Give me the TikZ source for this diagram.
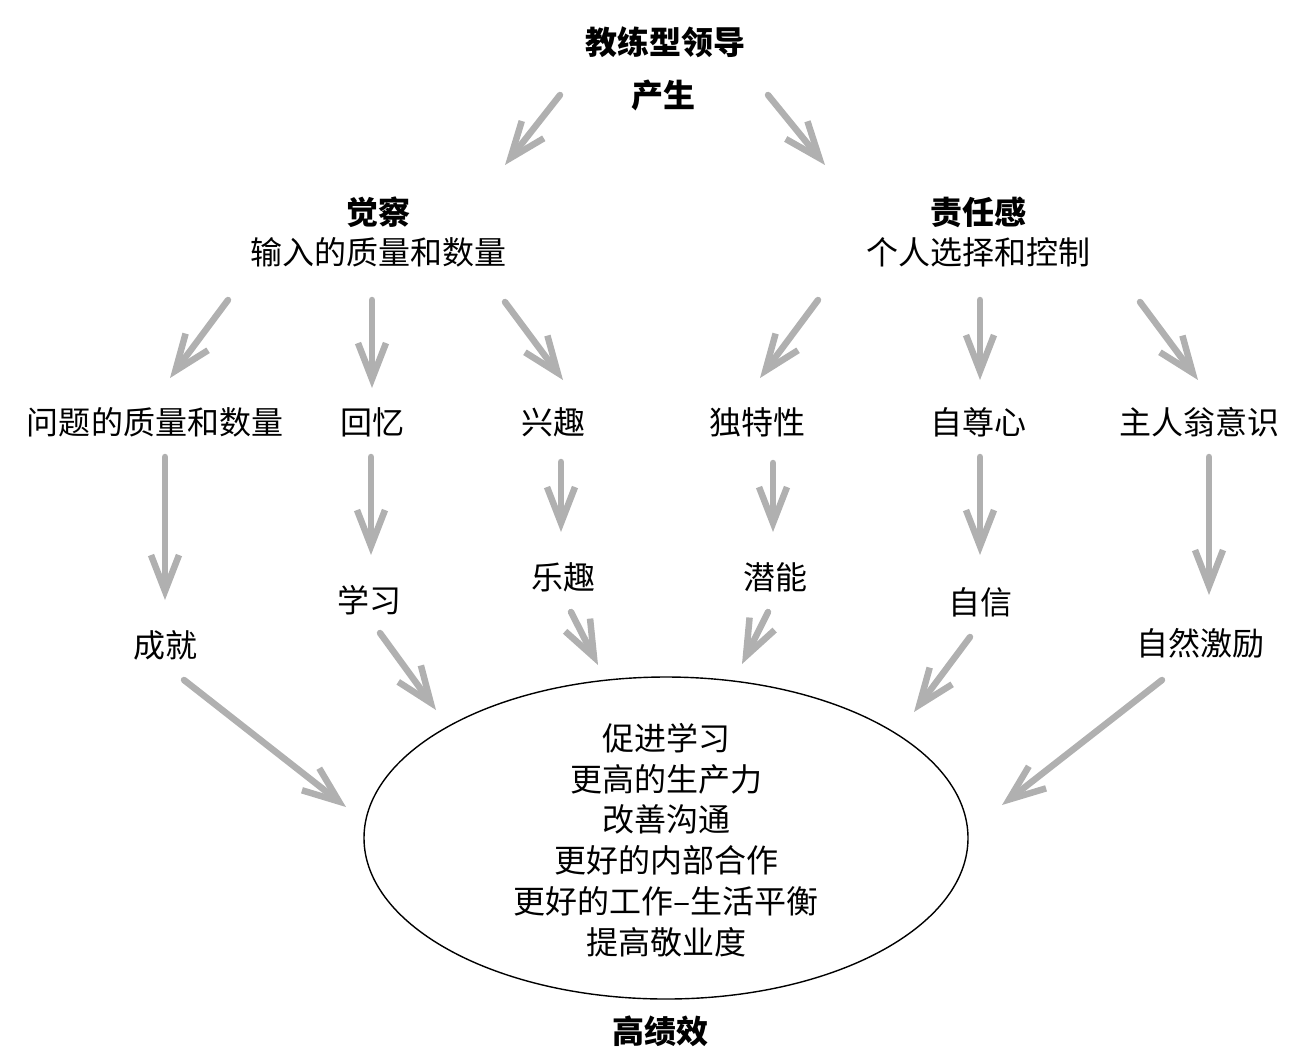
\documentclass[tikz,border=0pt]{standalone}
\usepackage{fontspec}
\setmainfont{Noto Sans CJK SC}
\usetikzlibrary{arrows.meta,shapes.geometric}
\definecolor{arrgray}{HTML}{B0B0B0}
\tikzset{
  txt/.style={inner sep=0pt, font=\fontsize{32}{40}\selectfont},
  hd/.style={inner sep=0pt, font=\fontsize{32}{40}\selectfont\bfseries},
  arr/.style={draw=arrgray, line width=6.5pt, line cap=round,
    -{Straight Barb[length=36pt, width=28pt]}},
}
\begin{document}
\begin{tikzpicture}[x=1pt,y=-1pt]
\useasboundingbox (0,0) rectangle (1308,1053);
% top
\node[hd] (lead) at (665,42) {教练型领导};
\node[hd] (prod) at (663,95) {产生};
\node[hd] (aw) at (378,212) {觉察};
\node[txt] (awq) at (378,252) {输入的质量和数量};
\node[hd] (resp) at (978,212) {责任感};
\node[txt] (respc) at (978,252) {个人选择和控制};
% middle row
\node[txt] (q) at (155,422) {问题的质量和数量};
\node[txt] (mem) at (372,422) {回忆};
\node[txt] (int) at (553,422) {兴趣};
\node[txt] (uni) at (757,422) {独特性};
\node[txt] (self) at (978,422) {自尊心};
\node[txt] (own) at (1199,422) {主人翁意识};
% lower row
\node[txt] (ach) at (165,645) {成就};
\node[txt] (learn) at (369,600) {学习};
\node[txt] (fun) at (563,577) {乐趣};
\node[txt] (pot) at (775,577) {潜能};
\node[txt] (conf) at (980,602) {自信};
\node[txt] (mot) at (1200,643) {自然激励};
% ellipse
\node[draw=black, line width=1.4pt, ellipse, minimum width=604pt, minimum height=322pt, inner sep=0pt] (ell) at (666,838) {};
\node[txt, align=center, font=\fontsize{32}{40.8}\selectfont] (res) at (666,840) {促进学习\\更高的生产力\\改善沟通\\更好的内部合作\\更好的工作–生活平衡\\提高敬业度};
\node[hd] (hp) at (660,1031) {高绩效};
% arrow end coordinates
\coordinate (a1s) at (560,95);  \coordinate (a1e) at (505,165);
\coordinate (a2s) at (768,95);  \coordinate (a2e) at (825,165);
\coordinate (a3s) at (228,300); \coordinate (a3e) at (170,378);
\coordinate (a4s) at (372,300); \coordinate (a4e) at (372,388);
\coordinate (a5s) at (505,302); \coordinate (a5e) at (563,380);
\coordinate (a6s) at (818,300); \coordinate (a6e) at (760,378);
\coordinate (a7s) at (980,300); \coordinate (a7e) at (980,380);
\coordinate (a8s) at (1140,302); \coordinate (a8e) at (1198,380);
\coordinate (a9s) at (165,457); \coordinate (a9e) at (165,600);
\coordinate (a10s) at (371,457); \coordinate (a10e) at (371,555);
\coordinate (a11s) at (561,462); \coordinate (a11e) at (561,532);
\coordinate (a12s) at (773,463); \coordinate (a12e) at (773,532);
\coordinate (a13s) at (980,457); \coordinate (a13e) at (980,555);
\coordinate (a14s) at (1209,457); \coordinate (a14e) at (1209,595);
\coordinate (a15s) at (184,680); \coordinate (a15e) at (346,807);
\coordinate (a16s) at (380,633); \coordinate (a16e) at (436,710);
\coordinate (a17s) at (571,612); \coordinate (a17e) at (598,665);
\coordinate (a18s) at (768,612); \coordinate (a18e) at (742,664);
\coordinate (a19s) at (970,637); \coordinate (a19e) at (914,712);
\coordinate (a20s) at (1162,680); \coordinate (a20e) at (1002,805);
\foreach \i in {1,...,20} { \draw[arr] (a\i s) -- (a\i e); }
\end{tikzpicture}
\end{document}
